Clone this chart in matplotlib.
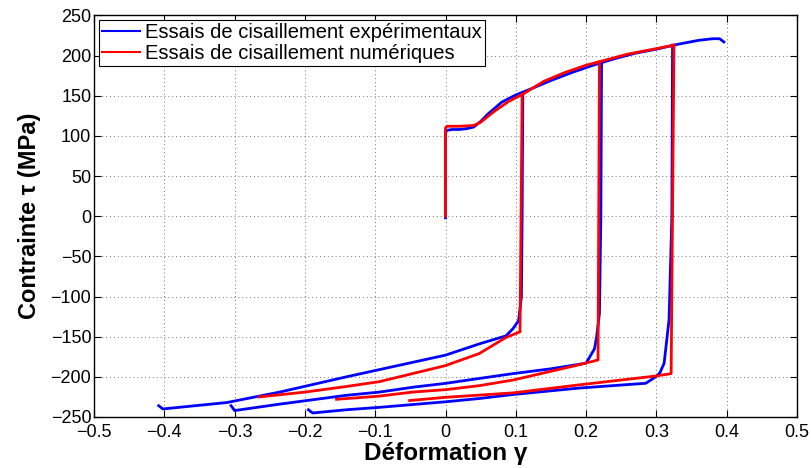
import matplotlib.pyplot as plt

# courbe de chargement experimentale (gamma, tau en MPa)
exp_load_g = [0.0, 0.0, 0.002, 0.01, 0.02, 0.03, 0.04, 0.05, 0.06, 0.08, 0.10, 0.12,
              0.15, 0.18, 0.21, 0.24, 0.27, 0.30, 0.33, 0.36, 0.38, 0.39, 0.396]
exp_load_t = [-2, 104, 107, 108, 108, 109, 111, 118, 127, 142, 151, 158,
              169, 179, 188, 196, 203, 208, 214, 219, 221, 221, 217]

# branches de decharge experimentales
exp_c1_g = [0.11, 0.109, 0.108, 0.104, 0.096, 0.086, 0.048, 0.0, -0.047, -0.094,
            -0.141, -0.236, -0.311, -0.402, -0.408]
exp_c1_t = [152, 0, -100, -130, -140, -149, -159, -173, -182, -191,
            -200, -219, -232, -240, -236]
exp_c2_g = [0.222, 0.221, 0.219, 0.215, 0.212, 0.2, 0.15, 0.096, 0.048, 0.001,
            -0.047, -0.094, -0.141, -0.236, -0.300, -0.305]
exp_c2_t = [190, 0, -121, -150, -165, -183, -190, -196, -202, -208,
            -213, -219, -223, -234, -242, -236]
exp_c3_g = [0.323, 0.322, 0.318, 0.311, 0.305, 0.299, 0.285, 0.19, 0.096, 0.048,
            0.001, -0.094, -0.141, -0.189, -0.195]
exp_c3_t = [213, 0, -129, -183, -195, -200, -208, -214, -222, -227,
            -231, -238, -241, -245, -241]

# courbe de chargement numerique
num_load_g = [0.0, 0.0, 0.002, 0.02, 0.04, 0.05, 0.07, 0.09, 0.11, 0.14, 0.17,
              0.20, 0.23, 0.26, 0.29, 0.325]
num_load_t = [0, 110, 112, 112, 113, 117, 131, 143, 152, 168, 179,
              188, 195, 202, 207, 213]

# branches de decharge numeriques
num_c1_g = [0.109, 0.106, 0.086, 0.048, 0.0, -0.047, -0.094, -0.141, -0.2, -0.265]
num_c1_t = [152, -144, -151, -171, -186, -196, -206, -212, -219, -225]
num_c2_g = [0.219, 0.217, 0.19, 0.096, 0.048, 0.0, -0.047, -0.094, -0.155]
num_c2_t = [192, -179, -185, -204, -211, -216, -219, -224, -228]
num_c3_g = [0.325, 0.321, 0.299, 0.19, 0.096, 0.0, -0.051]
num_c3_t = [213, -196, -199, -210, -220, -225.5, -229.5]

xticks = [-0.5, -0.4, -0.3, -0.2, -0.1, 0, 0.1, 0.2, 0.3, 0.4, 0.5]
xlabels = ['\u22120.5', '\u22120.4', '\u22120.3', '\u22120.2', '\u22120.1', '0',
           '0.1', '0.2', '0.3', '0.4', '0.5']
yticks = [-250, -200, -150, -100, -50, 0, 50, 100, 150, 200, 250]

plt.rcParams['font.family'] = ['Liberation Sans', 'DejaVu Sans']

fig, ax = plt.subplots()
fig.set_size_inches(8.12, 4.68)
fig.subplots_adjust(left=0.1158, right=0.9815, bottom=0.109, top=0.967)

lw = 2
ax.plot(exp_load_g, exp_load_t, color='b', lw=lw, label='Essais de cisaillement expérimentaux')
ax.plot(exp_c1_g, exp_c1_t, color='b', lw=lw)
ax.plot(exp_c2_g, exp_c2_t, color='b', lw=lw)
ax.plot(exp_c3_g, exp_c3_t, color='b', lw=lw)

ax.plot(num_load_g, num_load_t, color='r', lw=lw, label='Essais de cisaillement numériques')
ax.plot(num_c1_g, num_c1_t, color='r', lw=lw)
ax.plot(num_c2_g, num_c2_t, color='r', lw=lw)
ax.plot(num_c3_g, num_c3_t, color='r', lw=lw)

ax.set_xlim(-0.5, 0.5)
ax.set_ylim(-250, 250)
ax.set_xticks(xticks)
ax.set_xticklabels(xlabels)
ax.set_yticks(yticks)
ax.set_yticklabels([str(v).replace('-', '\u2212') for v in yticks])
ax.tick_params(direction='in', top=True, right=True, length=5, labelsize=13)
ax.tick_params(axis='y', pad=2)
ax.tick_params(axis='x', pad=5)
for s in ax.spines.values():
    s.set_linewidth(1.0)
ax.grid(True, linestyle=(0, (1, 3)), color='0.45', linewidth=0.7)

ax.set_xlabel('Déformation γ', fontsize=17.5, fontweight='bold', labelpad=1)
ax.set_ylabel('Contrainte τ (MPa)', fontsize=17, fontweight='bold', labelpad=7)

leg = ax.legend(loc='upper left', fontsize=14.5, fancybox=False, framealpha=1,
                edgecolor='k', borderaxespad=0.25, handlelength=1.9,
                handletextpad=0.25, borderpad=0.15, labelspacing=0.08)
leg.get_frame().set_linewidth(0.8)
for h in leg.get_lines():
    h.set_linewidth(1.5)

fig.savefig('out.png', dpi=100)
